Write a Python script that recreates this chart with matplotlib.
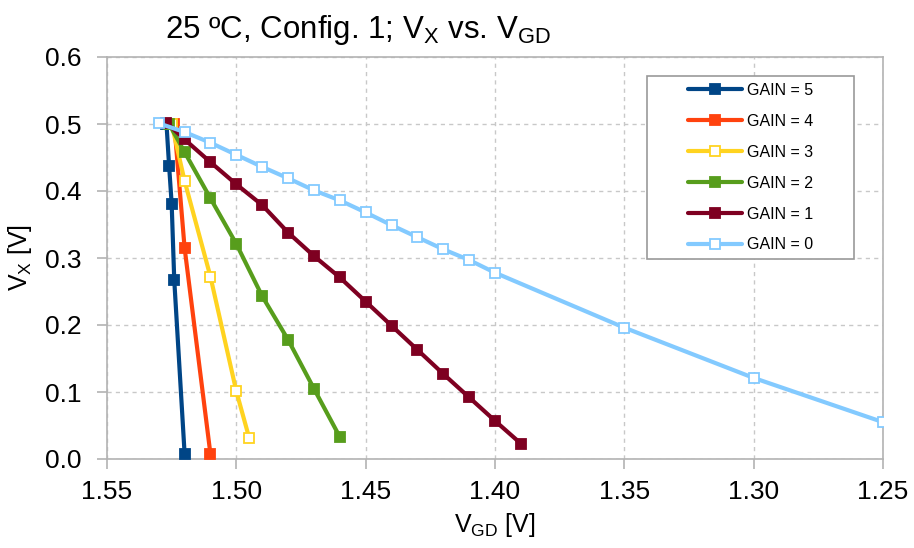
import matplotlib
matplotlib.use("Agg")
import matplotlib.pyplot as plt
from matplotlib.patches import Rectangle

plt.rcParams['font.family'] = ['Liberation Sans', 'DejaVu Sans']
plt.rcParams['mathtext.fontset'] = 'custom'
plt.rcParams['mathtext.rm'] = 'Liberation Sans'
plt.rcParams['mathtext.it'] = 'Liberation Sans'

# Measured V_X [V] against V_GD [V] for each gain setting
vgd_g5 = [1.527, 1.526, 1.525, 1.524, 1.520]
vx_g5 = [0.500, 0.438, 0.381, 0.267, 0.008]

vgd_g4 = [1.524, 1.520, 1.510]
vx_g4 = [0.500, 0.315, 0.007]

vgd_g3 = [1.525, 1.520, 1.510, 1.500, 1.495]
vx_g3 = [0.500, 0.415, 0.272, 0.101, 0.031]

vgd_g2 = [1.526, 1.520, 1.510, 1.500, 1.490, 1.480, 1.470, 1.460]
vx_g2 = [0.500, 0.458, 0.389, 0.321, 0.243, 0.178, 0.105, 0.033]

vgd_g1 = [1.527, 1.520, 1.510, 1.500, 1.490, 1.480, 1.470, 1.460, 1.450,
          1.440, 1.430, 1.420, 1.410, 1.400, 1.390]
vx_g1 = [0.502, 0.477, 0.443, 0.410, 0.379, 0.338, 0.303, 0.271, 0.235,
         0.199, 0.163, 0.127, 0.092, 0.057, 0.023]

vgd_g0 = [1.530, 1.520, 1.510, 1.500, 1.490, 1.480, 1.470, 1.460, 1.450,
          1.440, 1.430, 1.420, 1.410, 1.400, 1.350, 1.300, 1.250]
vx_g0 = [0.501, 0.488, 0.472, 0.454, 0.436, 0.419, 0.401, 0.386, 0.368,
         0.349, 0.331, 0.313, 0.297, 0.278, 0.196, 0.121, 0.055]

x_ticks = [1.55, 1.50, 1.45, 1.40, 1.35, 1.30, 1.25]
y_ticks = [0.0, 0.1, 0.2, 0.3, 0.4, 0.5, 0.6]

series = [
    ("GAIN = 5", vgd_g5, vx_g5, "#004586", True),
    ("GAIN = 4", vgd_g4, vx_g4, "#ff420e", True),
    ("GAIN = 3", vgd_g3, vx_g3, "#ffd320", False),
    ("GAIN = 2", vgd_g2, vx_g2, "#579d1c", True),
    ("GAIN = 1", vgd_g1, vx_g1, "#7e0021", True),
    ("GAIN = 0", vgd_g0, vx_g0, "#83caff", False),
]

fig = plt.figure(figsize=(9.14, 5.48), dpi=100)
ax = fig.add_axes([107 / 914, 1 - 459 / 548, 776 / 914, 402 / 548])

for label, xs, ys, color, filled in series:
    ax.plot(xs, ys, color=color, linewidth=3.0, marker='s', markersize=6.5,
            markerfacecolor=color if filled else 'white',
            markeredgecolor=color, markeredgewidth=1.3, label=label,
            solid_capstyle='round', zorder=3)

ax.set_xlim(1.55, 1.25)
ax.set_ylim(0.0, 0.6)
ax.set_xticks(x_ticks)
ax.set_xticklabels([f"{v:.2f}" for v in x_ticks])
ax.set_yticks(y_ticks)
ax.set_yticklabels([f"{v:.1f}" for v in y_ticks])

ax.grid(True, color='#c8c8c8', linestyle=(0, (3, 3)), linewidth=1.0, zorder=0)
for side in ['left', 'bottom', 'top', 'right']:
    ax.spines[side].set_color('#b3b3b3')
    ax.spines[side].set_linewidth(1.2)
ax.tick_params(axis='both', which='both', direction='out', length=7,
               color='#b3b3b3', width=1.2, labelsize=19, labelcolor='black')
ax.tick_params(axis='x', pad=8)
ax.tick_params(axis='y', pad=11)

ax.set_xlabel(r"V$\mathregular{_{GD}}$ [V]", fontsize=18, labelpad=5)
ax.set_ylabel(r"V$\mathregular{_{X}}$ [V]", fontsize=18, labelpad=8)

fig.text(165 / 914, 1 - 38 / 548,
         r"25 ºC, Config. 1; V$\mathregular{_{X}}$ vs. V$\mathregular{_{GD}}$",
         fontsize=22.5, ha='left', va='baseline')

# Legend box drawn separately so the entries sit centred with wide side margins
box_x, box_y, box_w, box_h = 0.696, 0.4975, 0.267, 0.455
ax.add_patch(Rectangle((box_x, box_y), box_w, box_h, transform=ax.transAxes,
                       facecolor='white', edgecolor='#999999', linewidth=1.2,
                       zorder=4))
leg = ax.legend(loc='center',
                bbox_to_anchor=(box_x + box_w / 2, box_y + box_h / 2),
                fontsize=11.5, frameon=False, handlelength=3.4,
                handletextpad=0.3, labelspacing=1.0, borderpad=0.0)
leg.set_zorder(5)

fig.savefig("out.png", dpi=100)
